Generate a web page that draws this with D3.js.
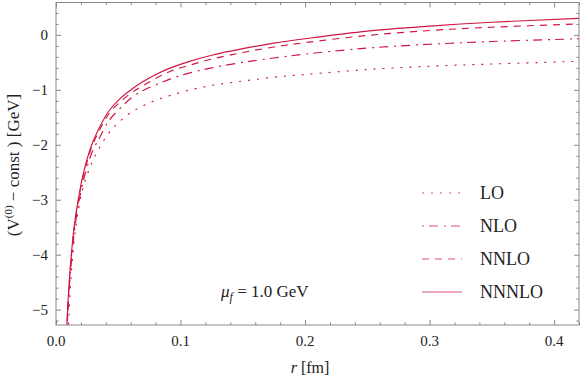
<!DOCTYPE html>
<html>
<head>
<meta charset="utf-8">
<script src="https://cdn.jsdelivr.net/npm/d3@7"></script>
<style>
  html, body { margin: 0; padding: 0; background: #fff; }
  .tick-label { font-size: 15px; fill: #222; }
  .legend-label { font-size: 18px; fill: #222; }
</style>
</head>
<body>
<div id="chart"></div>
<script>
const WIDTH = 581;
const HEIGHT = 379;
const SERIF = "'Liberation Serif', 'Times New Roman', serif";

// r in fm
const rValues = [0.0085, 0.01, 0.0125, 0.015, 0.018, 0.022, 0.0287, 0.035, 0.0426, 0.05,
  0.0608, 0.07, 0.081, 0.092, 0.106, 0.125, 0.15, 0.175, 0.2, 0.25, 0.3, 0.35, 0.42];

// (V^(0) - const) in GeV
const loValues = [-6.25, -5.3, -4.28, -3.67, -3.18, -2.76, -2.33, -2.05, -1.78, -1.6,
  -1.4, -1.29, -1.18, -1.1, -1.01, -0.92, -0.84, -0.77, -0.72, -0.63, -0.57, -0.53, -0.48];
const nloValues = [-5.55, -4.85, -4.07, -3.53, -3.09, -2.65, -2.15, -1.87, -1.56, -1.37,
  -1.14, -1.01, -0.9, -0.8, -0.7, -0.6, -0.5, -0.42, -0.35, -0.24, -0.17, -0.12, -0.07];
const nnloValues = [-5.45, -4.75, -3.98, -3.45, -3.01, -2.56, -2.04, -1.73, -1.43, -1.25,
  -1.05, -0.92, -0.78, -0.66, -0.56, -0.44, -0.32, -0.22, -0.14, -0.01, 0.08, 0.14, 0.2];
const nnnloValues = [-5.42, -4.72, -3.95, -3.42, -2.98, -2.52, -2.0, -1.68, -1.38, -1.19,
  -0.99, -0.85, -0.71, -0.6, -0.49, -0.37, -0.25, -0.15, -0.07, 0.07, 0.16, 0.23, 0.3];

const seriesNames = ["LO", "NLO", "NNLO", "NNNLO"];
const seriesDashes = ["2,7", "2,5,9,6", "7,6", null];

const xMajorTicks = [0, 0.1, 0.2, 0.3, 0.4];
const yMajorTicks = [-5, -4, -3, -2, -1, 0];

const LINE_COLOR = "#cf1640";
const FRAME_COLOR = "#8a8a8a";

const plot = { left: 56, right: 579, top: 2.5, bottom: 325 };

const x = d3.scaleLinear().domain([0, 0.42]).range([plot.left, plot.right]);
const y = d3.scaleLinear().domain([-5.28, 0.59]).range([plot.bottom, plot.top]);

const svg = d3.select("#chart")
  .append("svg")
  .attr("width", WIDTH)
  .attr("height", HEIGHT)
  .attr("viewBox", `0 0 ${WIDTH} ${HEIGHT}`)
  .style("font-family", SERIF);

svg.append("defs")
  .append("clipPath")
  .attr("id", "plot-clip")
  .append("rect")
  .attr("x", plot.left)
  .attr("y", plot.top)
  .attr("width", plot.right - plot.left)
  .attr("height", plot.bottom - plot.top);

// curves
const series = [loValues, nloValues, nnloValues, nnnloValues].map((values, i) => ({
  name: seriesNames[i],
  dash: seriesDashes[i],
  points: rValues.map((r, j) => [r, values[j]])
}));

const line = d3.line()
  .x((d) => x(d[0]))
  .y((d) => y(d[1]))
  .curve(d3.curveCatmullRom.alpha(0.5));

svg.append("g")
  .attr("clip-path", "url(#plot-clip)")
  .selectAll("path")
  .data(series)
  .join("path")
  .attr("d", (d) => line(d.points))
  .attr("fill", "none")
  .attr("stroke", LINE_COLOR)
  .attr("stroke-width", 1.15)
  .attr("stroke-dasharray", (d) => d.dash);

// frame with inward ticks on all four sides
const xMinor = d3.range(0, 0.4201, 0.02).filter((v) => !xMajorTicks.some((t) => Math.abs(t - v) < 1e-6));
const yMinor = d3.range(-5.2, 0.5, 0.2).filter((v) => !yMajorTicks.some((t) => Math.abs(t - v) < 1e-6));

function styleAxis(g) {
  g.select(".domain").remove();
  g.selectAll("line").attr("stroke", FRAME_COLOR).attr("stroke-width", 1);
}

const frame = svg.append("g");

[[plot.bottom, d3.axisBottom], [plot.top, d3.axisTop]].forEach(([pos, axisFn]) => {
  frame.append("g")
    .attr("transform", `translate(0,${pos})`)
    .call(axisFn(x).tickValues(xMajorTicks).tickSize(-5).tickFormat(""))
    .call(styleAxis);
  frame.append("g")
    .attr("transform", `translate(0,${pos})`)
    .call(axisFn(x).tickValues(xMinor).tickSize(-2.7).tickFormat(""))
    .call(styleAxis);
});

[[plot.left, d3.axisLeft], [plot.right, d3.axisRight]].forEach(([pos, axisFn]) => {
  frame.append("g")
    .attr("transform", `translate(${pos},0)`)
    .call(axisFn(y).tickValues(yMajorTicks).tickSize(-5).tickFormat(""))
    .call(styleAxis);
  frame.append("g")
    .attr("transform", `translate(${pos},0)`)
    .call(axisFn(y).tickValues(yMinor).tickSize(-2.7).tickFormat(""))
    .call(styleAxis);
});

frame.append("rect")
  .attr("x", plot.left)
  .attr("y", plot.top)
  .attr("width", plot.right - plot.left)
  .attr("height", plot.bottom - plot.top)
  .attr("fill", "none")
  .attr("stroke", FRAME_COLOR)
  .attr("stroke-width", 1);

// tick labels
svg.append("g")
  .selectAll("text")
  .data(xMajorTicks)
  .join("text")
  .attr("class", "tick-label")
  .attr("x", (d) => x(d))
  .attr("y", 346)
  .attr("text-anchor", "middle")
  .text((d) => d3.format(".1f")(d));

svg.append("g")
  .selectAll("text")
  .data(yMajorTicks)
  .join("text")
  .attr("class", "tick-label")
  .attr("x", 48)
  .attr("y", (d) => y(d) + 5)
  .attr("text-anchor", "end")
  .text((d) => (d < 0 ? "\u2212" + Math.abs(d) : d));

// axis titles
const xTitle = svg.append("text")
  .attr("x", 310)
  .attr("y", 373)
  .attr("text-anchor", "middle")
  .attr("font-size", 16)
  .attr("fill", "#222");
xTitle.append("tspan").attr("font-style", "italic").text("r");
xTitle.append("tspan").text(" [fm]");

const yTitle = svg.append("text")
  .attr("transform", "translate(19,165) rotate(-90)")
  .attr("text-anchor", "middle")
  .attr("font-size", 17)
  .attr("fill", "#222");
yTitle.append("tspan").text("(V");
yTitle.append("tspan").attr("font-size", 11).attr("dy", -7).text("(0)");
yTitle.append("tspan").attr("dy", 7).text(" \u2212 const ) [GeV]");

// scale annotation
const mu = svg.append("text")
  .attr("x", 221)
  .attr("y", 297)
  .attr("font-size", 17)
  .attr("fill", "#222");
mu.append("tspan").attr("font-style", "italic").text("\u03bc");
mu.append("tspan").attr("font-style", "italic").attr("font-size", 12).attr("dy", 4).text("f");
mu.append("tspan").attr("dy", -4).text(" = 1.0 GeV");

// legend
const legend = svg.append("g")
  .selectAll("g")
  .data(series)
  .join("g")
  .attr("transform", (d, i) => `translate(0,${193 + i * 33})`);

legend.append("line")
  .attr("x1", 422)
  .attr("x2", 462)
  .attr("stroke", LINE_COLOR)
  .attr("stroke-opacity", 0.75)
  .attr("stroke-width", 1.2)
  .attr("stroke-dasharray", (d) => d.dash);

legend.append("text")
  .attr("class", "legend-label")
  .attr("x", 480)
  .attr("y", 6)
  .text((d) => d.name);
</script>
</body>
</html>
